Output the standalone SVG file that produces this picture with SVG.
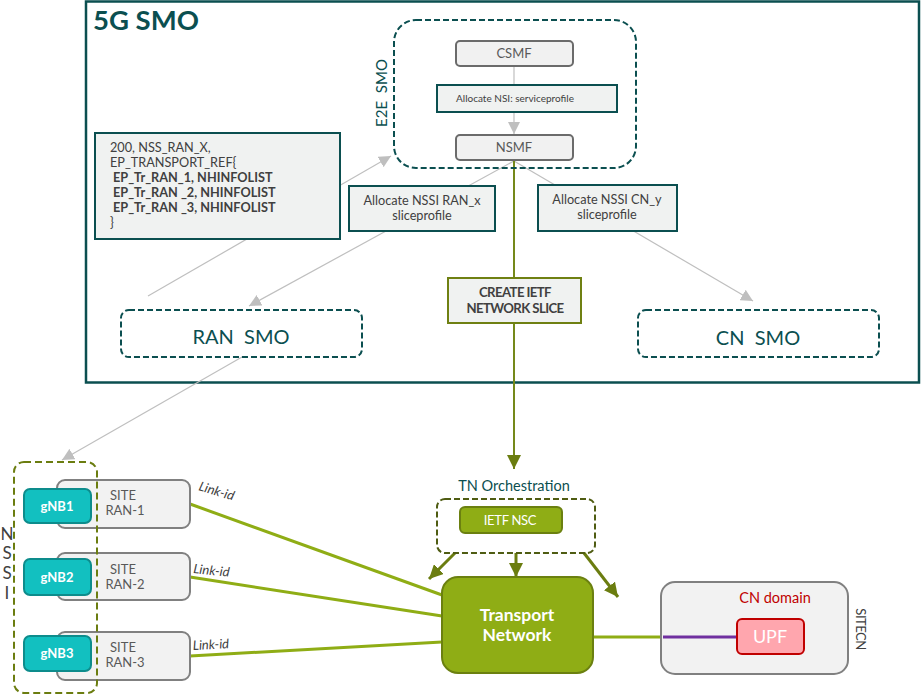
<svg xmlns="http://www.w3.org/2000/svg" width="922" height="695" viewBox="0 0 922 695">
<defs>
<style>
text{font-family:Lato,"Noto Sans","Liberation Sans",sans-serif}
.teal{fill:#0b4f50}
.gray{fill:#595959}
.fn{fill:#f1f1f1;stroke:#6b6b6b;stroke-width:2}
.lbl{fill:#f0f2f1;stroke:#0b4f50;stroke-width:2}
.dash{fill:none;stroke:#0b4f50;stroke-width:2;stroke-dasharray:6 3}
.site{fill:#f2f2f2;stroke:#808080;stroke-width:2}
.gnb{fill:#12c0c0;stroke:#0d8c8c;stroke-width:2}
.gl{stroke:#bfbfbf;stroke-width:1.2;fill:none}
.link{stroke:#8fad15;stroke-width:3;fill:none}
.ol{stroke:#6b7d10;stroke-width:3;fill:none}
.lk{font-size:13px;font-style:italic;fill:#404040}
</style>
<marker id="ag" viewBox="0 0 10 10" refX="10" refY="5" markerWidth="12" markerHeight="12" markerUnits="userSpaceOnUse" orient="auto"><path d="M0,0 L10,5 L0,10 z" fill="#bfbfbf"/></marker>
<marker id="ao" viewBox="0 0 10 10" refX="10" refY="5" markerWidth="14" markerHeight="14" markerUnits="userSpaceOnUse" orient="auto"><path d="M0,0 L10,5 L0,10 z" fill="#6b7d10"/></marker>
</defs>
<rect width="922" height="695" fill="#ffffff"/>

<g id="smo5g">
<rect x="86" y="1.5" width="833" height="381" fill="none" stroke="#0b4f50" stroke-width="2.5"/>
<text x="93" y="30" font-size="27.5" font-weight="bold" class="teal">5G SMO</text>
</g>

<g id="connectors">
<line class="gl" x1="514" y1="66" x2="514" y2="134" marker-end="url(#ag)"/>
<line class="gl" x1="514" y1="161" x2="249" y2="306" marker-end="url(#ag)"/>
<line class="gl" x1="514" y1="161" x2="753" y2="301" marker-end="url(#ag)"/>
<line class="gl" x1="148" y1="296" x2="391" y2="156" marker-end="url(#ag)"/>
<line class="gl" x1="242" y1="357" x2="62" y2="460" marker-end="url(#ag)"/>
<line x1="514" y1="161" x2="514" y2="469" stroke="#75891a" stroke-width="2" marker-end="url(#ao)"/>
<line class="link" x1="190" y1="504" x2="442" y2="595"/>
<line class="link" x1="190" y1="577" x2="442" y2="616"/>
<line class="link" x1="190" y1="656" x2="442" y2="642"/>
<line class="link" x1="593" y1="637" x2="662" y2="637"/>
<line class="ol" x1="455" y1="553" x2="429" y2="579" marker-end="url(#ao)"/>
<line class="ol" x1="516" y1="553" x2="516" y2="577" marker-end="url(#ao)"/>
<line class="ol" x1="584" y1="553" x2="618" y2="597" marker-end="url(#ao)"/>
<text x="198" y="490" class="lk" transform="rotate(17 198 490)">Link-id</text>
<text x="193" y="573" class="lk" transform="rotate(6 193 573)">Link-id</text>
<text x="193" y="650" class="lk" transform="rotate(-3 193 650)">Link-id</text>
</g>

<g id="e2esmo">
<rect class="dash" x="394" y="20" width="242" height="148" rx="22"/>
<text x="387" y="93" font-size="15" class="teal" text-anchor="middle" xml:space="preserve" transform="rotate(-90 387 93)">E2E  SMO</text>
</g>
<g id="csmf">
<rect class="fn" x="456" y="41" width="117" height="25" rx="4"/>
<text x="514" y="58" font-size="13" class="gray" text-anchor="middle">CSMF</text>
</g>
<g id="allocnsi">
<rect class="lbl" x="437" y="85" width="180" height="27"/>
<text x="515" y="102" font-size="10" fill="#404040" text-anchor="middle">Allocate NSI: serviceprofile</text>
</g>
<g id="nsmf">
<rect class="fn" x="456" y="135" width="117" height="25" rx="4"/>
<text x="514" y="152" font-size="13" class="gray" text-anchor="middle">NSMF</text>
</g>

<g id="response">
<rect class="lbl" x="95" y="133" width="245" height="106"/>
<g font-size="12.7" fill="#404040">
<text x="110" y="152">200, NSS_RAN_X,</text>
<text x="110" y="167">EP_TRANSPORT_REF{</text>
<text x="113" y="182" font-weight="bold">EP_Tr_RAN_1, NHINFOLIST</text>
<text x="113" y="197" font-weight="bold">EP_Tr_RAN _2, NHINFOLIST</text>
<text x="113" y="212" font-weight="bold">EP_Tr_RAN _3, NHINFOLIST</text>
<text x="110" y="227">}</text>
</g>
</g>

<g id="allocran">
<rect class="lbl" x="349" y="186" width="146" height="45"/>
<text x="422" y="205" font-size="12.7" fill="#404040" text-anchor="middle">Allocate NSSI RAN_x</text>
<text x="422" y="220" font-size="12.7" fill="#404040" text-anchor="middle">sliceprofile</text>
</g>
<g id="alloccn">
<rect class="lbl" x="538" y="185" width="139" height="46"/>
<text x="607" y="204" font-size="12.7" fill="#404040" text-anchor="middle">Allocate NSSI CN_y</text>
<text x="607" y="219" font-size="12.7" fill="#404040" text-anchor="middle">sliceprofile</text>
</g>
<g id="createietf">
<rect x="448" y="278" width="133" height="45" fill="#f0f2f1" stroke="#6f8012" stroke-width="2"/>
<text x="515" y="297" font-size="13.2" font-weight="bold" fill="#404040" text-anchor="middle" letter-spacing="-0.6">CREATE IETF</text>
<text x="515" y="313" font-size="13.2" font-weight="bold" fill="#404040" text-anchor="middle" letter-spacing="-0.6">NETWORK SLICE</text>
</g>

<g id="ransmo">
<rect class="dash" x="121" y="310" width="241" height="47" rx="8"/>
<text x="241" y="344" font-size="20" class="teal" text-anchor="middle" xml:space="preserve">RAN  SMO</text>
</g>
<g id="cnsmo">
<rect class="dash" x="638" y="310" width="241" height="47" rx="8"/>
<text x="758" y="345" font-size="20" class="teal" text-anchor="middle" xml:space="preserve">CN  SMO</text>
</g>

<g id="site1">
<rect class="site" x="57" y="480" width="133" height="48" rx="8"/>
<text x="123" y="500" font-size="13" class="gray" text-anchor="middle">SITE</text>
<text x="125" y="515" font-size="13" class="gray" text-anchor="middle">RAN-1</text>
</g>
<g id="site2">
<rect class="site" x="57" y="553" width="133" height="47" rx="8"/>
<text x="123" y="574" font-size="13" class="gray" text-anchor="middle">SITE</text>
<text x="125" y="589" font-size="13" class="gray" text-anchor="middle">RAN-2</text>
</g>
<g id="site3">
<rect class="site" x="57" y="632" width="133" height="48" rx="8"/>
<text x="123" y="652" font-size="13" class="gray" text-anchor="middle">SITE</text>
<text x="125" y="667" font-size="13" class="gray" text-anchor="middle">RAN-3</text>
</g>
<g id="gnb1">
<rect class="gnb" x="24" y="489" width="67" height="34" rx="6"/>
<text x="57" y="511" font-size="13" font-weight="bold" fill="#ffffff" text-anchor="middle">gNB1</text>
</g>
<g id="gnb2">
<rect class="gnb" x="24" y="559" width="67" height="36" rx="6"/>
<text x="57" y="582" font-size="13" font-weight="bold" fill="#ffffff" text-anchor="middle">gNB2</text>
</g>
<g id="gnb3">
<rect class="gnb" x="24" y="636" width="67" height="35" rx="6"/>
<text x="57" y="658" font-size="13" font-weight="bold" fill="#ffffff" text-anchor="middle">gNB3</text>
</g>
<g id="nssi">
<rect x="14" y="462" width="83" height="231" rx="10" fill="none" stroke="#6b7d10" stroke-width="2" stroke-dasharray="7 4"/>
<g font-size="17" fill="#404040" text-anchor="middle">
<text x="7" y="540">N</text>
<text x="7" y="559">S</text>
<text x="7" y="579">S</text>
<text x="7" y="599">I</text>
</g>
</g>

<g id="tnorch">
<text x="514" y="491" font-size="14.5" class="teal" text-anchor="middle">TN Orchestration</text>
<rect x="437" y="499" width="158" height="54" rx="8" fill="none" stroke="#4f5c12" stroke-width="2" stroke-dasharray="6 3"/>
</g>
<g id="ietfnsc">
<rect x="460" y="507" width="102" height="26" rx="5" fill="#8fad15" stroke="#6b8010" stroke-width="2"/>
<text x="510" y="525" font-size="13" fill="#ffffff" text-anchor="middle" letter-spacing="-0.3">IETF NSC</text>
</g>
<g id="transport">
<rect x="442" y="577" width="151" height="96" rx="16" fill="#8fad15" stroke="#6b8010" stroke-width="2"/>
<text x="517" y="621" font-size="17.5" font-weight="bold" fill="#ffffff" text-anchor="middle">Transport</text>
<text x="517" y="641" font-size="17.5" font-weight="bold" fill="#ffffff" text-anchor="middle">Network</text>
</g>
<g id="cndomain">
<rect x="661" y="582" width="187" height="92" rx="14" fill="#f2f2f2" stroke="#808080" stroke-width="2"/>
<text x="775" y="603" font-size="14.5" fill="#c00000" text-anchor="middle">CN domain</text>
<line x1="663" y1="637" x2="737" y2="637" stroke="#7030a0" stroke-width="3"/>
<text x="856" y="629" font-size="13" fill="#404040" text-anchor="middle" letter-spacing="-0.5" transform="rotate(90 856 629)">SITECN</text>
</g>
<g id="upf">
<rect x="737" y="619" width="67" height="35" rx="5" fill="#ffa6ae" stroke="#c00000" stroke-width="2"/>
<text x="770" y="643" font-size="18" fill="#ffffff" text-anchor="middle">UPF</text>
</g>
</svg>
